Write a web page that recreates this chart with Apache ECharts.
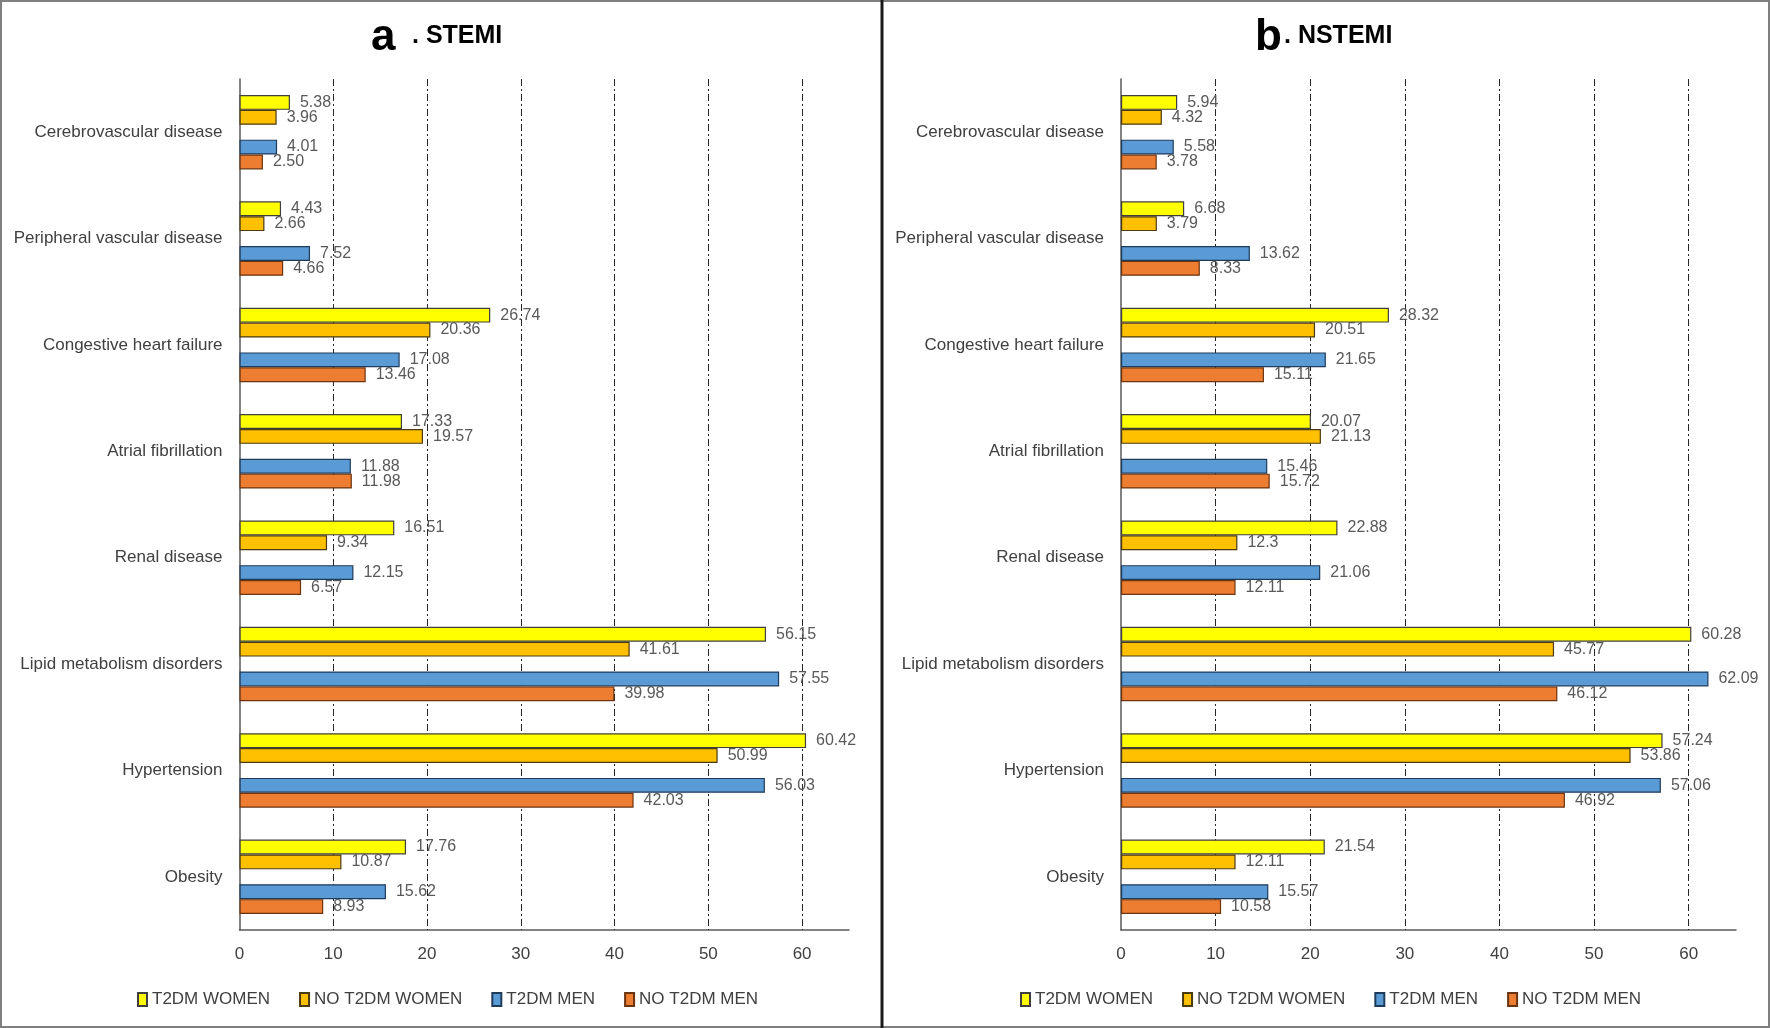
<!DOCTYPE html>
<html>
<head>
<meta charset="utf-8">
<script src="https://cdn.jsdelivr.net/npm/echarts@6/dist/echarts.min.js"></script>
<style>
html,body{margin:0;padding:0;background:#fff;}
#chart{width:1770px;height:1028px;}
</style>
</head>
<body>
<div id="chart"></div>
<script>
// ---- data ----
const categories = [
  'Cerebrovascular disease',
  'Peripheral vascular disease',
  'Congestive heart failure',
  'Atrial fibrillation',
  'Renal disease',
  'Lipid metabolism disorders',
  'Hypertension',
  'Obesity'
];
const seriesNames = ['T2DM WOMEN', 'NO T2DM WOMEN', 'T2DM MEN', 'NO T2DM MEN'];
const xTicks = [10, 20, 30, 40, 50, 60];
const xMax = 65;

// a. STEMI
const stemiT2dmWomen   = ['5.38', '4.43', '26.74', '17.33', '16.51', '56.15', '60.42', '17.76'];
const stemiNoT2dmWomen = ['3.96', '2.66', '20.36', '19.57', '9.34', '41.61', '50.99', '10.87'];
const stemiT2dmMen     = ['4.01', '7.52', '17.08', '11.88', '12.15', '57.55', '56.03', '15.62'];
const stemiNoT2dmMen   = ['2.50', '4.66', '13.46', '11.98', '6.57', '39.98', '42.03', '8.93'];

// b. NSTEMI
const nstemiT2dmWomen   = ['5.94', '6.68', '28.32', '20.07', '22.88', '60.28', '57.24', '21.54'];
const nstemiNoT2dmWomen = ['4.32', '3.79', '20.51', '21.13', '12.3', '45.77', '53.86', '12.11'];
const nstemiT2dmMen     = ['5.58', '13.62', '21.65', '15.46', '21.06', '62.09', '57.06', '15.57'];
const nstemiNoT2dmMen   = ['3.78', '8.33', '15.11', '15.72', '12.11', '46.12', '46.92', '10.58'];

// ---- style ----
const FONT = '"Liberation Sans", Arial, sans-serif';
const colors  = ['#FFFF00', '#FFC000', '#5B9BD5', '#ED7D31'];
const borders = ['#3f3f3f', '#4a3a10', '#1f3b5c', '#6b3410'];

function barSeries(i, values, axisIdx, withGrid) {
  const s = {
    type: 'bar',
    name: seriesNames[i],
    xAxisIndex: axisIdx,
    yAxisIndex: axisIdx,
    data: values.map(Number),
    barGap: '0%',
    barCategoryGap: '30%',
    itemStyle: { color: colors[i], borderColor: borders[i], borderWidth: 1.2 },
    label: {
      show: true, position: 'right', distance: 10,
      color: '#595959', fontSize: 16, fontFamily: FONT,
      formatter: p => values[p.dataIndex]
    },
    emphasis: { disabled: true }
  };
  if (withGrid) {
    s.markLine = {
      silent: true, symbol: 'none', z: 1,
      label: { show: false },
      lineStyle: { color: '#262626', type: [7, 3, 2, 3], width: 1 },
      data: xTicks.map(v => ({ xAxis: v }))
    };
  }
  return s;
}
function gapSeries(axisIdx) {
  return { type: 'bar', name: '_gap', xAxisIndex: axisIdx, yAxisIndex: axisIdx, data: [], barGap: '0%', barCategoryGap: '30%' };
}
function panelSeries(arrs, axisIdx) {
  return [
    barSeries(0, arrs[0], axisIdx, true),
    barSeries(1, arrs[1], axisIdx, false),
    gapSeries(axisIdx),
    barSeries(2, arrs[2], axisIdx, false),
    barSeries(3, arrs[3], axisIdx, false)
  ];
}
function xAxis(gridIndex) {
  return {
    type: 'value', gridIndex, min: 0, max: xMax, interval: 10,
    axisLine: { show: true, lineStyle: { color: '#595959', width: 1.5 } },
    axisTick: { show: false },
    splitLine: { show: false },
    axisLabel: {
      fontSize: 17, color: '#404040', fontFamily: FONT, margin: 16,
      formatter: v => (xTicks.indexOf(v) >= 0 || v === 0) ? String(v) : ''
    }
  };
}
function yAxis(gridIndex) {
  return {
    type: 'category', gridIndex, data: categories, inverse: true,
    axisLine: { show: true, lineStyle: { color: '#595959', width: 1.5 } },
    axisTick: { show: false },
    axisLabel: { fontSize: 17, color: '#404040', fontFamily: FONT, margin: 17 }
  };
}
function legend(left) {
  return {
    data: seriesNames, left, top: 986, orient: 'horizontal',
    itemWidth: 9, itemHeight: 13, itemGap: 29, icon: 'rect',
    textStyle: { fontSize: 17, color: '#404040', fontFamily: FONT },
    selectedMode: false
  };
}

const option = {
  backgroundColor: '#ffffff',
  animation: false,
  grid: [
    { left: 239.5, top: 79, width: 609.5, height: 851 },
    { left: 1121, top: 79, width: 615, height: 851 }
  ],
  xAxis: [xAxis(0), xAxis(1)],
  yAxis: [yAxis(0), yAxis(1)],
  legend: [legend(132), legend(1015)],
  series: [].concat(
    panelSeries([stemiT2dmWomen, stemiNoT2dmWomen, stemiT2dmMen, stemiNoT2dmMen], 0),
    panelSeries([nstemiT2dmWomen, nstemiNoT2dmWomen, nstemiT2dmMen, nstemiNoT2dmMen], 1)
  ),
  graphic: [
    { type: 'rect', silent: true, shape: { x: 1, y: 1, width: 1768, height: 1026 },
      style: { fill: 'none', stroke: '#7f7f7f', lineWidth: 2 } },
    { type: 'line', silent: true, shape: { x1: 882, y1: 0, x2: 882, y2: 1028 },
      style: { stroke: '#1a1a1a', lineWidth: 3 } },
    { type: 'text', silent: true, x: 371, y: 38,
      style: { text: 'a', font: 'bold 44px ' + FONT, fill: '#000', textAlign: 'left', textVerticalAlign: 'middle' } },
    { type: 'text', silent: true, x: 412, y: 36,
      style: { text: '. STEMI', font: 'bold 25px ' + FONT, fill: '#000', textAlign: 'left', textVerticalAlign: 'middle' } },
    { type: 'text', silent: true, x: 1255, y: 38,
      style: { text: 'b', font: 'bold 44px ' + FONT, fill: '#000', textAlign: 'left', textVerticalAlign: 'middle' } },
    { type: 'text', silent: true, x: 1284, y: 36,
      style: { text: '. NSTEMI', font: 'bold 25px ' + FONT, fill: '#000', textAlign: 'left', textVerticalAlign: 'middle' } }
  ]
};

const chart = echarts.init(document.getElementById('chart'), null, { renderer: 'canvas' });
chart.setOption(option);
</script>
</body>
</html>
